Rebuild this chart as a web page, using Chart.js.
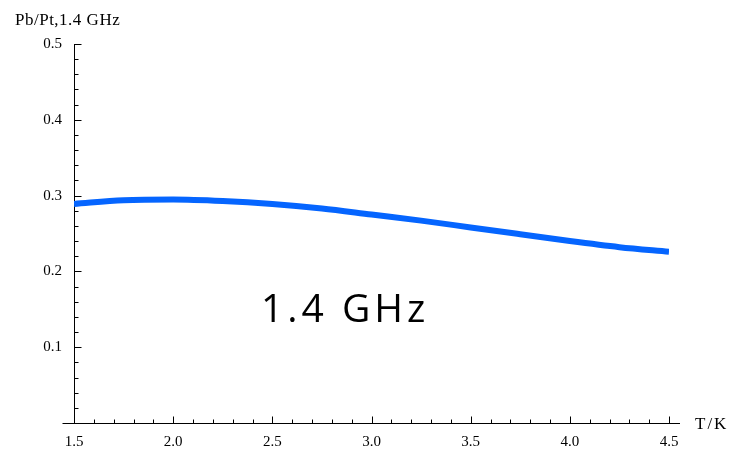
<!DOCTYPE html>
<html>
<head>
<meta charset="utf-8">
<script src="https://cdn.jsdelivr.net/npm/chart.js@4"></script>
<style>
  html, body { margin: 0; padding: 0; background: #fff; }
  #wrap { width: 739px; height: 455px; position: relative; }
</style>
</head>
<body>
<div id="wrap"><canvas id="ratio-chart"></canvas></div>
<script>
// 온도 (K)
const temps = [1.5, 1.75, 2.0, 2.25, 2.5, 2.75, 3.0, 3.25, 3.5, 3.75, 4.0, 4.25, 4.5];
// Pb/Pt 비율
const ratios = [0.289, 0.294, 0.295, 0.293, 0.289, 0.283, 0.275, 0.267, 0.258, 0.249, 0.240, 0.232, 0.226];
// 눈금 라벨
const xTickLabels = ["1.5", "2.0", "2.5", "3.0", "3.5", "4.0", "4.5"];
const yTickLabels = ["0.1", "0.2", "0.3", "0.4", "0.5"];

const yAxisTitle = "Pb/Pt,1.4 GHz";
const xAxisTitle = "T/K";
const freqLabel = "1.4 GHz";

const tickFont = { family: "'Liberation Serif', 'DejaVu Serif', serif", size: 15 };

// 안쪽으로 향하는 눈금 + x축 연장선 + 축 제목
const axisDecor = {
  id: "axisDecor",
  afterDraw(chart) {
    const ctx = chart.ctx;
    const xs = chart.scales.x;
    const ys = chart.scales.y;
    const x0 = Math.round(xs.getPixelForValue(1.5)) + 0.5;
    const y0 = Math.round(ys.getPixelForValue(0)) + 0.5;
    ctx.save();
    ctx.strokeStyle = "#000";
    ctx.lineWidth = 1;
    ctx.beginPath();
    // x축 양끝 연장
    ctx.moveTo(x0 - 12, y0);
    ctx.lineTo(xs.getPixelForValue(4.5) + 11, y0);
    // x축 눈금 (0.1 간격, 0.5마다 길게)
    for (let i = 1; i <= 30; i++) {
      const v = 1.5 + i * 0.1;
      const px = Math.round(xs.getPixelForValue(v)) + 0.5;
      const len = i % 5 === 0 ? 7 : 4;
      ctx.moveTo(px, y0);
      ctx.lineTo(px, y0 - len);
    }
    // y축 눈금 (0.02 간격, 0.1마다 길게)
    for (let i = 1; i <= 25; i++) {
      const v = i * 0.02;
      const py = Math.round(ys.getPixelForValue(v)) + 0.5;
      const len = i % 5 === 0 ? 7 : 4;
      ctx.moveTo(x0, py);
      ctx.lineTo(x0 + len, py);
    }
    ctx.stroke();

    ctx.fillStyle = "#000";
    ctx.font = "17px 'Liberation Serif', serif";
    ctx.letterSpacing = "0.5px";
    ctx.textBaseline = "middle";
    ctx.textAlign = "left";
    ctx.fillText(yAxisTitle, 15, 21);
    ctx.letterSpacing = "2px";
    ctx.fillText(xAxisTitle, 695, y0 + 1);

    // 주파수 표시
    ctx.font = "39px 'Open Sans', sans-serif";
    ctx.letterSpacing = "4px";
    ctx.textBaseline = "alphabetic";
    ctx.fillText(freqLabel, 261, 322);
    ctx.restore();
  },
};

const ctx = document.getElementById("ratio-chart").getContext("2d");
new Chart(ctx, {
  type: "line",
  data: {
    datasets: [
      {
        data: temps.map((t, i) => ({ x: t, y: ratios[i] })),
        borderColor: "#0565ff",
        borderWidth: 6,
        pointRadius: 0,
        cubicInterpolationMode: "monotone",
        fill: false,
      },
    ],
  },
  options: {
    responsive: true,
    maintainAspectRatio: false,
    animation: false,
    layout: { padding: { top: 44, right: 70, left: 0, bottom: 0 } },
    plugins: {
      legend: { display: false },
      tooltip: { enabled: false },
    },
    scales: {
      x: {
        type: "linear",
        min: 1.5,
        max: 4.5,
        afterFit(scale) { scale.height = 32; },
        afterBuildTicks(scale) {
          scale.ticks = xTickLabels.map((s) => ({ value: parseFloat(s) }));
        },
        ticks: {
          color: "#000",
          font: tickFont,
          padding: 10,
          maxRotation: 0,
          callback: (v) => xTickLabels.find((s) => parseFloat(s) === v) || "",
        },
        grid: { display: false, drawTicks: false },
        border: { display: true, color: "#000", width: 1 },
      },
      y: {
        min: 0,
        max: 0.5,
        afterFit(scale) { scale.width = 74; },
        afterBuildTicks(scale) {
          scale.ticks = yTickLabels.map((s) => ({ value: parseFloat(s) }));
        },
        ticks: {
          color: "#000",
          font: tickFont,
          padding: 12,
          callback: (v) => yTickLabels.find((s) => Math.abs(parseFloat(s) - v) < 1e-9) || "",
        },
        grid: { display: false, drawTicks: false },
        border: { display: true, color: "#000", width: 1 },
      },
    },
  },
  plugins: [axisDecor],
});
</script>
</body>
</html>
